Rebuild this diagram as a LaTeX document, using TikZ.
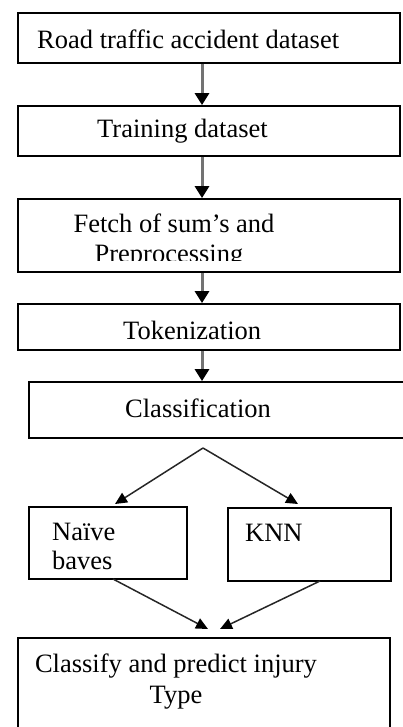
\documentclass[tikz,border=0pt]{standalone}
\usepackage{fontspec}
\setmainfont{Liberation Serif}
\usetikzlibrary{arrows.meta}
\begin{document}
\begin{tikzpicture}[x=1pt,y=-1pt,
  box/.style={draw=black,line width=1.8pt,inner sep=0pt},
  txt/.style={inner sep=0pt,font=\fontsize{26.5}{30}\selectfont},
  varr/.style={draw=black!55,line width=3pt,-{Triangle[width=14pt,length=12pt,fill=black,color=black]}},
  darr/.style={draw=black!85,line width=1.5pt,-{Triangle[width=11pt,length=12pt,fill=black,color=black]}}]
\useasboundingbox (0,0) rectangle (403,727);
% boxes
\node[box,minimum width=382pt,minimum height=50pt] (b1) at (209,38) {};
\node[box,minimum width=382pt,minimum height=50pt] (b2) at (209,131) {};
\node[box,minimum width=382pt,minimum height=73pt] (b3) at (209,235.5) {};
\node[box,minimum width=382pt,minimum height=46pt] (b4) at (209,327) {};
\node[box,minimum width=382pt,minimum height=56pt] (b5) at (220,410) {};
\node[box,minimum width=158pt,minimum height=72pt] (nb) at (108,543) {};
\node[box,minimum width=163pt,minimum height=73pt] (knn) at (309.5,544.5) {};
\node[box,minimum width=372pt,minimum height=120pt] (b6) at (204,698) {};
% texts
\node[txt,anchor=base west] (t1) at (37,49) {Road traffic accident dataset};
\node[txt,anchor=base west] (t2) at (97,138) {Training dataset};
\node[txt,anchor=base] (t3a) at (174,232) {Fetch of sum’s and};
\begin{scope}
\clip (20,200) rectangle (398,260);
\node[txt,anchor=base] (t3b) at (169,262) {Preprocessing};
\end{scope}
\node[txt,anchor=base west] (t4) at (123,339) {Tokenization};
\node[txt,anchor=base west] (t5) at (125,417) {Classification};
\node[txt,anchor=base west] (t6a) at (52,540) {Naïve};
\node[txt,anchor=base west] (t6b) at (52,569) {baves};
\node[txt,anchor=base west] (t7) at (245,541) {KNN};
\node[txt,anchor=base] (t8a) at (176,672) {Classify and predict injury};
\node[txt,anchor=base] (t8b) at (176,703) {Type};
% connectors
\coordinate (ax) at (202,0);
\draw[varr] (b1.south -| ax) -- (b2.north -| ax);
\draw[varr] (b2.south -| ax) -- (b3.north -| ax);
\draw[varr] (b3.south -| ax) -- (b4.north -| ax);
\draw[varr] (b4.south -| ax) -- (b5.north -| ax);
\coordinate (peak) at (203,448);
\coordinate (tl) at (115,504);
\coordinate (tr) at (298,504);
\draw[darr] (peak) -- (tl);
\draw[darr] (peak) -- (tr);
\coordinate (nbo) at (113,579);
\coordinate (kno) at (320,581);
\coordinate (bl) at (208,629);
\coordinate (br) at (220,629);
\draw[darr] (nbo) -- (bl);
\draw[darr] (kno) -- (br);
\end{tikzpicture}
\end{document}
